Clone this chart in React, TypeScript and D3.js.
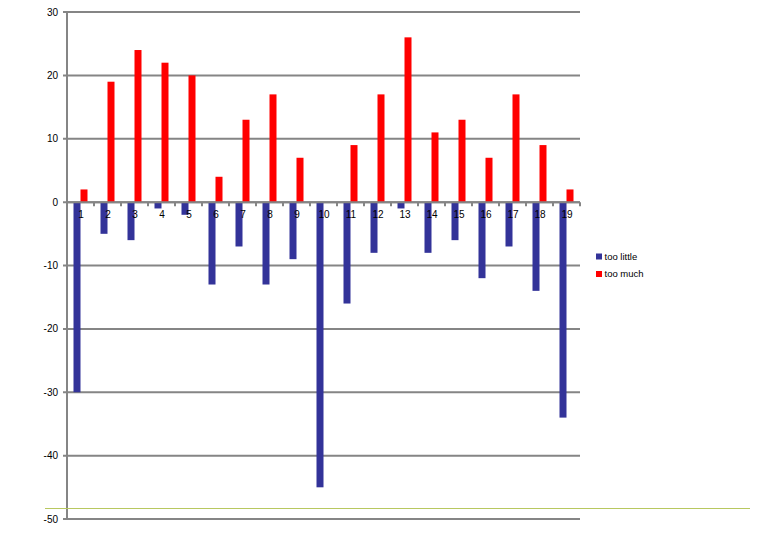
import React from "react";
import * as d3 from "d3";

const categories = ["1","2","3","4","5","6","7","8","9","10","11","12","13","14","15","16","17","18","19"];
const tooLittle = [-30, -5, -6, -1, -2, -13, -7, -13, -9, -45, -16, -8, -1, -8, -6, -12, -7, -14, -34];
const tooMuch = [2, 19, 24, 22, 20, 4, 13, 17, 7, 0, 9, 17, 26, 11, 13, 7, 17, 9, 2];
const yTicks = [30, 20, 10, 0, -10, -20, -30, -40, -50];
const seriesNames = ["too little", "too much"];
const seriesColors = ["#333399", "#FF0000"];

export default function App() {
  const W = 780, H = 540;
  const left = 67, right = 580, top = 12, bottom = 519;
  const x = d3.scaleBand<string>().domain(categories).range([left, right]).padding(0);
  const y = d3.scaleLinear().domain([-50, 30]).range([bottom, top]);
  const inner = d3.scaleBand<string>().domain(seriesNames).range([0, 14]).padding(0);
  const series = [tooLittle, tooMuch];
  const font = "'Liberation Sans', Arial, sans-serif";
  const y0 = y(0);
  return (
    <svg width={W} height={H} style={{ position: "absolute", left: 0, top: 0, background: "#fff" }}>
      {yTicks.map((t) => (
        <g key={t}>
          <line x1={left - 4} x2={right} y1={y(t)} y2={y(t)} stroke="#858585" strokeWidth={2} />
          <text x={58} y={y(t) + 3.5} fontSize={10} fontFamily={font} textAnchor="end" fill="#000">{t}</text>
        </g>
      ))}
      <line x1={left} x2={left} y1={top - 1} y2={bottom + 1} stroke="#858585" strokeWidth={2} />
      {series.map((vals, si) =>
        vals.map((v, i) => {
          const cx = (x(categories[i]) as number) + x.bandwidth() / 2 - 7 + (inner(seriesNames[si]) as number);
          const y1 = Math.min(y(v), y0);
          const h = Math.abs(y(v) - y0);
          return <rect key={si + "-" + i} x={cx} y={y1} width={7} height={h} fill={seriesColors[si]} />;
        })
      )}
      <line x1={left} x2={right} y1={y0} y2={y0} stroke="#858585" strokeWidth={2} />
      {categories.map((c, i) => (
        <line key={"tk" + c} x1={(x(c) as number) + x.bandwidth()} x2={(x(c) as number) + x.bandwidth()} y1={y0} y2={y0 + 4} stroke="#858585" strokeWidth={2} />
      ))}
      {categories.map((c) => (
        <text key={"lb" + c} x={(x(c) as number) + x.bandwidth() / 2 + 0.5} y={y0 + 16} fontSize={10} fontFamily={font} textAnchor="middle" fill="#000">{c}</text>
      ))}
      {seriesNames.map((n, i) => (
        <g key={n}>
          <rect x={596} y={253.5 + i * 17.5} width={6} height={6} fill={seriesColors[i]} />
          <text x={604.5} y={259.5 + i * 17.5} fontSize={9.5} fontFamily={font} fill="#000">{n}</text>
        </g>
      ))}
      <line x1={45} x2={750} y1={508.5} y2={508.5} stroke="#b8c860" strokeWidth={1} />
    </svg>
  );
}
